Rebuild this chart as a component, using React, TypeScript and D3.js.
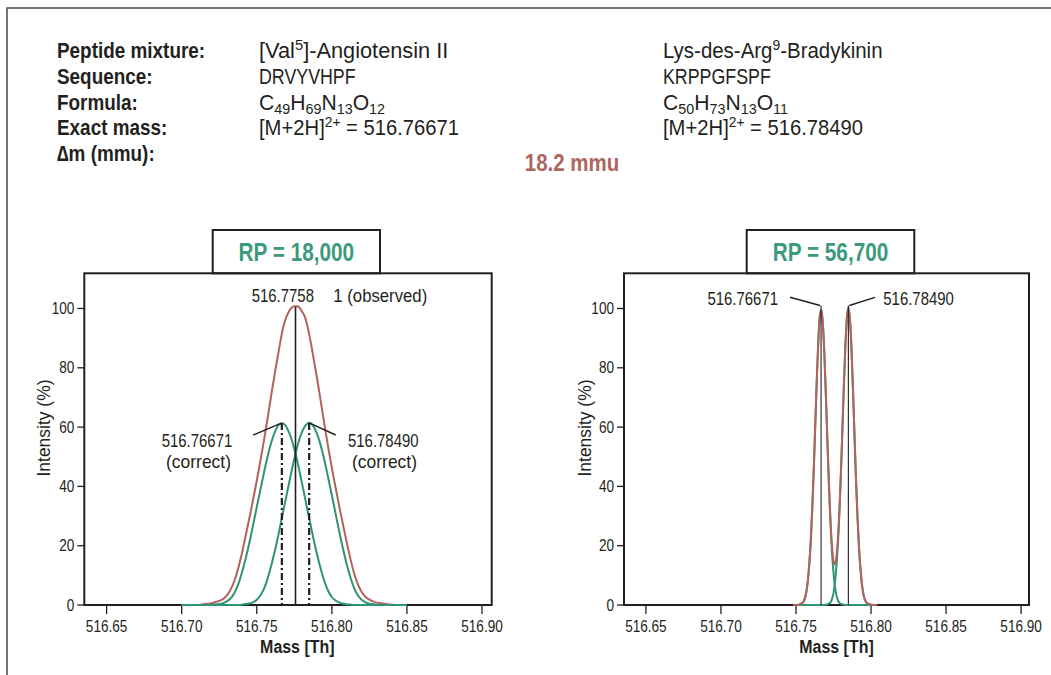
import React from "react";
import * as d3 from "d3";

// tick values
const xTicks = [516.65, 516.7, 516.75, 516.8, 516.85, 516.9];
const yTicks = [0, 20, 40, 60, 80, 100];

// left panel (RP = 18,000): mass grid and intensities (%)
const leftMass = [
  516.7, 516.7025, 516.705, 516.7075, 516.71, 516.7125, 516.715, 516.7175, 516.72, 516.7225,
  516.725, 516.7275, 516.73, 516.7325, 516.735, 516.7375, 516.74, 516.7425, 516.745, 516.7475,
  516.75, 516.7525, 516.755, 516.7575, 516.76, 516.7625, 516.765, 516.7675, 516.77, 516.7725,
  516.775, 516.7775, 516.78, 516.7825, 516.785, 516.7875, 516.79, 516.7925, 516.795, 516.7975,
  516.8, 516.8025, 516.805, 516.8075, 516.81, 516.8125, 516.815, 516.8175, 516.82, 516.8225,
  516.825, 516.8275, 516.83, 516.8325, 516.835, 516.8375, 516.84, 516.8425, 516.845, 516.8475,
  516.85,
];
const leftGreen1 = [
  0, 0, 0, 0, 0, 0, 0, 0, 0.1, 0.2,
  0.3, 0.6, 1.2, 2.2, 4.0, 6.7, 10.7, 15.4, 20.8, 26.8,
  33.0, 39.1, 45.1, 50.7, 55.4, 58.9, 60.9, 61.2, 59.8, 56.9,
  52.6, 47.3, 41.4, 35.2, 29.0, 23.0, 17.4, 12.4, 8.1, 4.8,
  2.7, 1.5, 0.8, 0.4, 0.2, 0.1, 0, 0, 0, 0,
  0, 0, 0, 0, 0, 0, 0, 0, 0, 0,
  0,
];
const leftGreen2 = [
  0, 0, 0, 0, 0, 0, 0, 0, 0, 0,
  0, 0, 0, 0, 0, 0, 0.1, 0.3, 0.5, 0.9,
  1.8, 3.3, 5.7, 9.4, 14.0, 19.2, 25.1, 31.3, 37.4, 43.5,
  49.3, 54.4, 58.2, 60.6, 61.5, 60.5, 57.9, 54.0, 48.9, 43.1,
  37.0, 30.8, 24.6, 18.8, 13.6, 9.1, 5.5, 3.1, 1.7, 0.9,
  0.4, 0.3, 0.1, 0, 0, 0, 0, 0, 0, 0,
  0,
];
const leftRed = [
  0, 0, 0, 0, 0, 0.1, 0.3, 0.4, 0.6, 1.0,
  1.4, 2.0, 3.2, 5.1, 8.0, 12.1, 17.2, 23.1, 29.1, 35.4,
  41.9, 48.8, 56.1, 63.9, 71.9, 79.6, 86.8, 93.4, 97.5, 99.9,
  100.8, 100.7, 99.1, 96.5, 91.1, 84.2, 76.9, 69.1, 61.1, 53.4,
  46.2, 39.6, 33.1, 26.9, 20.9, 15.3, 10.4, 6.8, 4.3, 2.7,
  1.8, 1.2, 0.8, 0.6, 0.4, 0.2, 0.1, 0, 0, 0,
  0,
];

// right panel (RP = 56,700)
const rightMass = [
  516.748, 516.749, 516.75, 516.751, 516.752, 516.753, 516.754, 516.755, 516.756, 516.757,
  516.758, 516.759, 516.76, 516.761, 516.762, 516.763, 516.764, 516.765, 516.766, 516.767,
  516.768, 516.769, 516.77, 516.771, 516.772, 516.773, 516.774, 516.775, 516.776, 516.777,
  516.778, 516.779, 516.78, 516.781, 516.782, 516.783, 516.784, 516.785, 516.786, 516.787,
  516.788, 516.789, 516.79, 516.791, 516.792, 516.793, 516.794, 516.795, 516.796, 516.797,
  516.798, 516.799, 516.8, 516.801, 516.802, 516.803, 516.804,
];
const rightGreen1 = [
  0, 0, 0, 0, 0.1, 0.3, 0.6, 1.1, 2.4, 4.7,
  8.6, 14.7, 23.0, 34.3, 47.9, 63.0, 77.9, 90.3, 98.0, 99.5,
  94.2, 83.6, 69.5, 54.2, 39.7, 27.5, 17.8, 10.9, 6.0, 3.2,
  1.5, 0.7, 0.4, 0.2, 0.1, 0, 0, 0, 0, 0,
  0, 0, 0, 0, 0, 0, 0, 0, 0, 0,
  0, 0, 0, 0, 0, 0, 0,
];
const rightGreen2 = [
  0, 0, 0, 0, 0, 0, 0, 0, 0, 0,
  0, 0, 0, 0, 0, 0, 0, 0, 0, 0,
  0, 0, 0.1, 0.2, 0.5, 0.9, 2.0, 4.0, 7.6, 13.3,
  21.1, 31.8, 45.0, 60.1, 75.4, 88.5, 97.4, 100.2, 96.1, 86.2,
  72.5, 57.0, 42.2, 29.5, 19.3, 12.0, 6.7, 3.5, 1.7, 0.8,
  0.5, 0.2, 0.1, 0, 0, 0, 0,
];
const rightRed = [
  0, 0, 0, 0, 0.1, 0.3, 0.6, 1.1, 2.4, 4.7,
  8.6, 14.7, 23.0, 34.3, 47.9, 63.0, 77.9, 90.3, 98.0, 99.5,
  94.2, 83.6, 69.6, 54.4, 40.2, 28.4, 19.8, 14.9, 13.6, 16.5,
  22.6, 32.5, 45.4, 60.3, 75.5, 88.5, 97.4, 100.2, 96.1, 86.2,
  72.5, 57.0, 42.2, 29.5, 19.3, 12.0, 6.7, 3.5, 1.7, 0.8,
  0.5, 0.2, 0.1, 0, 0, 0, 0,
];

// peak markers
const observedMass = 516.7758;
const observedApex = 100.6;
const correctMasses = [516.76671, 516.7849];
const leftCorrectApex = 61.4;
const rightCorrectApex = 101;

// header table
const headerLabels = ["Peptide mixture:", "Sequence:", "Formula:", "Exact mass:", "\u2206m (mmu):"];
type Part = { t: string; s?: "sub" | "sup" };
const peptideA: Part[][] = [
  [{ t: "[Val" }, { t: "5", s: "sup" }, { t: "]-Angiotensin II" }],
  [{ t: "DRVYVHPF" }],
  [{ t: "C" }, { t: "49", s: "sub" }, { t: "H" }, { t: "69", s: "sub" }, { t: "N" }, { t: "13", s: "sub" }, { t: "O" }, { t: "12", s: "sub" }],
  [{ t: "[M+2H]" }, { t: "2+", s: "sup" }, { t: " = 516.76671" }],
];
const peptideB: Part[][] = [
  [{ t: "Lys-des-Arg" }, { t: "9", s: "sup" }, { t: "-Bradykinin" }],
  [{ t: "KRPPGFSPF" }],
  [{ t: "C" }, { t: "50", s: "sub" }, { t: "H" }, { t: "73", s: "sub" }, { t: "N" }, { t: "13", s: "sub" }, { t: "O" }, { t: "11", s: "sub" }],
  [{ t: "[M+2H]" }, { t: "2+", s: "sup" }, { t: " = 516.78490" }],
];
const deltaText = "18.2 mmu";

const FONT = "'Liberation Sans', Arial, sans-serif";
const INK = "#231f20";
const GREEN = "#2f9474";
const TITLE_GREEN = "#3b9a7b";
const RED = "#b3625d";

// horizontal squeeze per header row (capitals squeeze more than lower case)
const stretchA = [0.99, 0.81, 0.96, 0.92];
const stretchB = [0.93, 0.81, 0.96, 0.92];

// condensed text: no narrow face is installed, so squeeze Liberation Sans horizontally
const T = ({ x, y, sx = 0.85, children, ...rest }: any) => (
  <text transform={`translate(${x},${y}) scale(${sx},1)`} fill={INK} {...rest}>
    {children}
  </text>
);

const rich = (parts: Part[], size: number) => {
  let cur = 0;
  return parts.map((p, i) => {
    const target = p.s === "sup" ? -0.36 * size : p.s === "sub" ? 0.22 * size : 0;
    const dy = target - cur;
    cur = target;
    return (
      <tspan key={i} dy={dy} fontSize={p.s ? size * 0.68 : size}>
        {p.t}
      </tspan>
    );
  });
};

const TOP = 273.3;
const BOTTOM = 605;
const ROW = (i: number) => 58 + i * 25.8;

function Panel({ left, right, xr, title, titleBox, yLabelX, mass, green1, green2, red, redOnTop, children }: any) {
  const x = d3.scaleLinear().domain([516.65, 516.9]).range(xr);
  const y = d3.scaleLinear().domain([0, 100]).range([BOTTOM, 308.5]);
  const line = d3
    .line<number>()
    .x((_, i) => x(mass[i]))
    .y((d) => y(d))
    .curve(d3.curveMonotoneX);
  const fmt = d3.format(".2f");
  const redPath = <path d={line(red) || ""} fill="none" stroke={RED} strokeWidth={2} />;
  return (
    <g>
      <rect x={titleBox[0]} y={230} width={titleBox[1] - titleBox[0]} height={TOP - 230} fill="none" stroke={INK} strokeWidth={2} />
      <T x={(titleBox[0] + titleBox[1]) / 2} y={261} sx={0.83} textAnchor="middle" fontSize={25} fontWeight="bold" fill={TITLE_GREEN}>
        {title}
      </T>
      <rect x={left} y={TOP} width={right - left} height={BOTTOM - TOP} fill="none" stroke={INK} strokeWidth={2} />
      {yTicks.map((t) => (
        <g key={t}>
          <line x1={left - 7} x2={left} y1={y(t)} y2={y(t)} stroke={INK} strokeWidth={1.3} />
          <T x={left - 10} y={y(t)} dy="0.35em" textAnchor="end" fontSize={16}>
            {t}
          </T>
        </g>
      ))}
      {xTicks.map((t) => (
        <g key={t}>
          <line x1={x(t)} x2={x(t)} y1={BOTTOM} y2={BOTTOM + 9} stroke={INK} strokeWidth={1.3} />
          <T x={x(t)} y={631.5} textAnchor="middle" fontSize={16}>
            {fmt(t)}
          </T>
        </g>
      ))}
      <T x={x(516.777)} y={653} sx={0.84} textAnchor="middle" fontSize={19} fontWeight="bold">
        Mass [Th]
      </T>
      <text
        transform={`translate(${yLabelX},428) rotate(-90) scale(0.97,1)`}
        textAnchor="middle"
        dy="0.35em"
        fontSize={18}
        fill={INK}
      >
        Intensity (%)
      </text>
      {!redOnTop && redPath}
      <path d={line(green1) || ""} fill="none" stroke={GREEN} strokeWidth={2} />
      <path d={line(green2) || ""} fill="none" stroke={GREEN} strokeWidth={2} />
      {redOnTop && redPath}
      {children(x, y)}
    </g>
  );
}

export default function App() {
  return (
    <div>
      <style>{"body{margin:0;overflow:hidden}"}</style>
      <svg width={1051} height={675} fontFamily={FONT} style={{ display: "block", background: "#fff" }}>
        <path d="M7,675 V8 H1051" fill="none" stroke="#4a4a4a" strokeWidth={1.5} />

        {headerLabels.map((l, i) => (
          <T key={l} x={57} y={ROW(i)} sx={0.86} fontSize={22} fontWeight="bold">
            {l}
          </T>
        ))}
        {peptideA.map((p, i) => (
          <T key={i} x={259} y={ROW(i)} sx={stretchA[i]} fontSize={22}>
            {rich(p, 22)}
          </T>
        ))}
        {peptideB.map((p, i) => (
          <T key={i} x={663} y={ROW(i)} sx={stretchB[i]} fontSize={22}>
            {rich(p, 22)}
          </T>
        ))}
        <T x={572} y={171} sx={0.89} textAnchor="middle" fontSize={23} fontWeight="bold" fill="#ad6660">
          {deltaText}
        </T>

        <Panel
          left={84.3}
          right={491.7}
          xr={[106.6, 482]}
          title="RP = 18,000"
          titleBox={[212.7, 380]}
          yLabelX={44}
          mass={leftMass}
          green1={leftGreen1}
          green2={leftGreen2}
          red={leftRed}
          redOnTop={false}
        >
          {(x: any, y: any) => (
            <g>
              <line x1={x(observedMass)} x2={x(observedMass)} y1={y(observedApex)} y2={BOTTOM} stroke={INK} strokeWidth={1.6} />
              {correctMasses.map((m) => (
                <line key={m} x1={x(m)} x2={x(m)} y1={y(leftCorrectApex)} y2={BOTTOM} stroke={INK} strokeWidth={2.2} strokeDasharray="7,3,2,3" />
              ))}
              <T x={251.7} y={301.7} sx={0.83} fontSize={18}>516.7758</T>
              <T x={333.3} y={301.7} sx={0.93} fontSize={18}>1 (observed)</T>
              <line x1={253.3} y1={435} x2={x(correctMasses[0])} y2={y(leftCorrectApex)} stroke={INK} strokeWidth={1.4} />
              <line x1={x(correctMasses[1])} y1={y(leftCorrectApex)} x2={335.7} y2={435} stroke={INK} strokeWidth={1.4} />
              <T x={197} y={446.7} sx={0.83} textAnchor="middle" fontSize={18}>516.76671</T>
              <T x={198.5} y={468.3} sx={0.97} textAnchor="middle" fontSize={18}>(correct)</T>
              <T x={383.3} y={446.7} sx={0.83} textAnchor="middle" fontSize={18}>516.78490</T>
              <T x={384.5} y={468.3} sx={0.97} textAnchor="middle" fontSize={18}>(correct)</T>
            </g>
          )}
        </Panel>

        <Panel
          left={624}
          right={1029}
          xr={[645.9, 1021.1]}
          title="RP = 56,700"
          titleBox={[746.7, 914.3]}
          yLabelX={585}
          mass={rightMass}
          green1={rightGreen1}
          green2={rightGreen2}
          red={rightRed}
          redOnTop={true}
        >
          {(x: any, y: any) => (
            <g>
              {correctMasses.map((m) => (
                <line key={m} x1={x(m)} x2={x(m)} y1={y(rightCorrectApex)} y2={BOTTOM} stroke={INK} strokeWidth={1.1} />
              ))}
              <line x1={790} y1={297.3} x2={x(correctMasses[0]) - 1} y2={y(rightCorrectApex)} stroke={INK} strokeWidth={1.4} />
              <line x1={x(correctMasses[1]) + 1} y1={y(rightCorrectApex)} x2={875} y2={297.3} stroke={INK} strokeWidth={1.4} />
              <T x={778} y={305} sx={0.83} textAnchor="end" fontSize={18}>516.76671</T>
              <T x={883.3} y={305} sx={0.83} fontSize={18}>516.78490</T>
            </g>
          )}
        </Panel>
      </svg>
    </div>
  );
}
